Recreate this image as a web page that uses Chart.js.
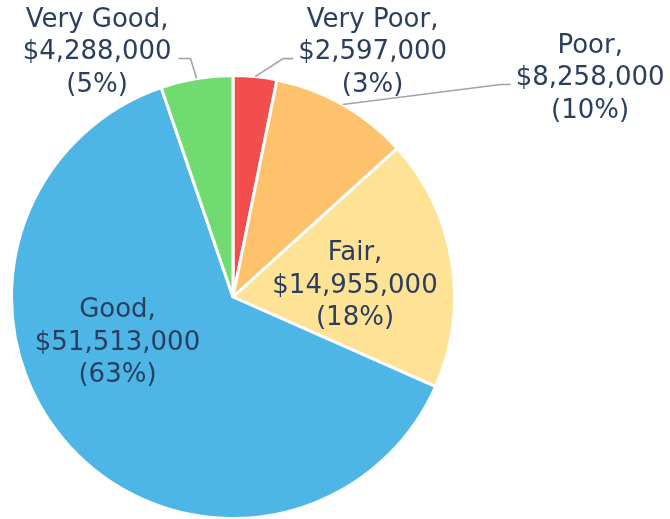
<!DOCTYPE html>
<html><head><meta charset="utf-8">
<script src="https://cdn.jsdelivr.net/npm/chart.js@4/dist/chart.umd.min.js"></script>
<style>html,body{margin:0;padding:0;background:#fff;} canvas{display:block;}</style>
</head><body>
<canvas id="c" width="670" height="519"></canvas>
<script>
const categories = ['Very Poor', 'Poor', 'Fair', 'Good', 'Very Good'];
const values = [2597000, 8258000, 14955000, 51513000, 4288000];
const colors = ['#F24E4E', '#FEC26D', '#FEE396', '#4DB6E6', '#70DB70'];

// label placement (offsets of the text block centre)
const labelLayout = [
  { mode: 'out', dx: 117.5, dy: -27, side: 'right' },
  { mode: 'out', dx: 247.5, dy: -29, side: 'right' },
  { mode: 'in', dx: 122, dy: -14 },
  { mode: 'in', dx: -115.5, dy: 43 },
  { mode: 'out', dx: -99.5, dy: -29, side: 'left' }
];
const FONT = '26px "DejaVu Sans", Verdana, sans-serif';
const TEXT_COLOR = '#2a3f5f';
const LINE_H = 32.5;

const labelPlugin = {
  id: 'pieLabels',
  afterDatasetsDraw(chart) {
    const ctx = chart.ctx;
    const meta = chart.getDatasetMeta(0);
    const data = chart.data.datasets[0].data;
    const total = data.reduce((a, b) => a + b, 0);
    ctx.save();
    ctx.font = FONT;
    ctx.fillStyle = TEXT_COLOR;
    ctx.textAlign = 'center';
    ctx.textBaseline = 'alphabetic';
    meta.data.forEach((arc, i) => {
      const p = arc.getProps(['x', 'y', 'startAngle', 'endAngle', 'outerRadius'], true);
      const mid = (p.startAngle + p.endAngle) / 2;
      const lay = labelLayout[i];
      const v = data[i];
      const lines = [
        chart.data.labels[i] + ',',
        '$' + v.toLocaleString('en-US'),
        '(' + Math.round(v / total * 100) + '%)'
      ];
      let cx, cy;
      if (lay.mode === 'in') {
        cx = p.x + lay.dx; cy = p.y + lay.dy;
      } else {
        const ex = p.x + Math.cos(mid) * p.outerRadius;
        const ey = p.y + Math.sin(mid) * p.outerRadius;
        cx = ex + lay.dx; cy = ey + lay.dy;
        const maxW = Math.max(...lines.map(l => ctx.measureText(l).width));
        let endX, elbowX;
        const yy = cy + 9;
        if (lay.side === 'right') {
          endX = cx - maxW / 2 - 5; elbowX = endX - 10;
        } else {
          endX = cx + maxW / 2 + 7; elbowX = endX + 12;
        }
        ctx.save();
        ctx.strokeStyle = '#a3a3a3';
        ctx.lineWidth = 1.6;
        ctx.beginPath();
        ctx.moveTo(ex, ey);
        ctx.lineTo(elbowX, yy);
        ctx.lineTo(endX, yy);
        ctx.stroke();
        ctx.restore();
      }
      lines.forEach((t, k) => {
        ctx.fillText(t, cx, cy + (k - 1) * LINE_H + 9.5);
      });
    });
    ctx.restore();
  }
};

new Chart(document.getElementById('c'), {
  type: 'pie',
  data: {
    labels: categories,
    datasets: [{
      data: values,
      backgroundColor: colors,
      borderColor: '#ffffff',
      borderWidth: 3,
      radius: 221.5
    }]
  },
  options: {
    responsive: false,
    animation: false,
    layout: { padding: { left: 0, right: 204, top: 75, bottom: 0 } },
    plugins: { legend: { display: false }, tooltip: { enabled: false } }
  },
  plugins: [labelPlugin]
});
</script>
</body></html>
